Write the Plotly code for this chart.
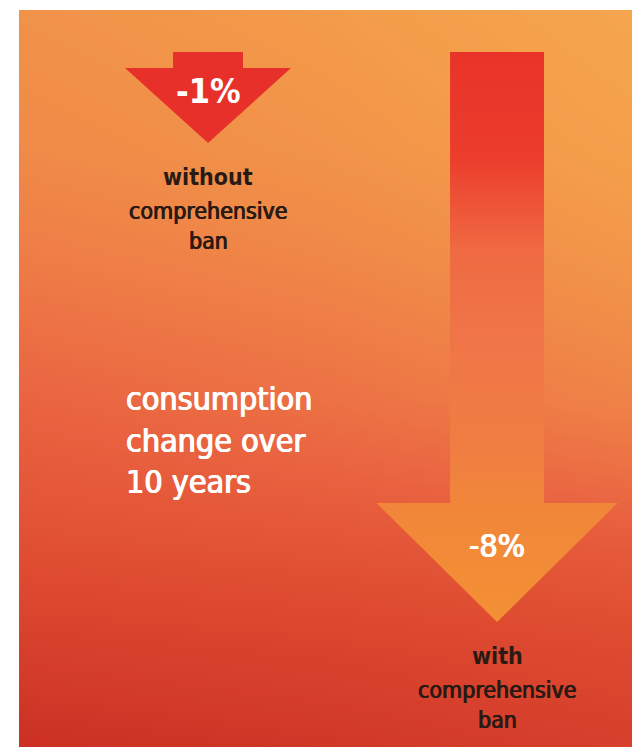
import plotly.graph_objects as go

# ---------------- data ----------------
scenarios = ["without comprehensive ban", "with comprehensive ban"]
label_bold = ["without", "with"]
label_rest = ["comprehensive", "ban"]
changes = [-1, -8]                     # % change in consumption over 10 years
value_labels = ["-1%", "-8%"]
side_title = ["consumption", "change over", "10 years"]

# ---------------- style / geometry ----------------
W, H = 632, 747
ML, MT = 19, 10
X_RANGE = [-0.654, 1.467]
Y_RANGE = [-9.827, 0.944]
ARROW_TOP = 0.33
SHAFT_W = [0.242, 0.325]
HEAD_W = [0.574, 0.834]
HEAD_D = [1.096, 1.739]
VAL_POS = [0.69, 0.64]       # fraction of head depth above the tip
VAL_BOLD = [True, False]
LINE_OFFSETS = [34, 68, 98]  # px below tip for the three label lines
DARK = "#2a1a14"
FONT = "DejaVu Sans Condensed"
THICK_DARK = "0.45px 0 0 #2a1a14, -0.45px 0 0 #2a1a14"
THICK_WHITE = "0.6px 0 0 white, -0.6px 0 0 white"


def px_to_v(py):
    # background only: screen rows -> value units
    return Y_RANGE[1] - (py - MT) * (Y_RANGE[1] - Y_RANGE[0]) / (H - MT)


fig = go.Figure()

# background gradient
bg_rows_px = [0, 150, 250, 400, 550, 650, 760]
bg_cols = [-0.75, 0.4, 1.55]
bg_left = [0.25, 0.32, 0.42, 0.60, 0.75, 0.88, 1.00]
bg_mid = [0.17, 0.24, 0.33, 0.50, 0.71, 0.84, 0.95]
bg_right = [0.05, 0.12, 0.20, 0.36, 0.66, 0.78, 0.88]
bg_z = [list(r) for r in zip(bg_left, bg_mid, bg_right)]
bg_scale = [
    [0.0, "#f7aa52"], [0.15, "#f49e4a"], [0.3, "#f08c48"], [0.45, "#ee7846"],
    [0.6, "#e96240"], [0.75, "#e04e32"], [0.9, "#d43c2a"], [1.0, "#c92d22"],
]
fig.add_trace(go.Heatmap(
    x=bg_cols, y=[px_to_v(p) for p in bg_rows_px], z=bg_z,
    colorscale=bg_scale, zmin=0, zmax=1, zsmooth="best",
    showscale=False, hoverinfo="skip",
))

arrow_fill = [
    dict(fillcolor="#e8302a"),
    dict(fillgradient=dict(
        type="vertical",
        start=changes[1], stop=ARROW_TOP,
        colorscale=[[0.0, "#f39034"], [0.21, "#f1863a"], [0.3, "#f07e42"],
                    [0.5, "#f07548"], [0.65, "#ef6a42"], [0.82, "#eb3c2c"],
                    [1.0, "#e9332a"]],
    )),
]

for i, v in enumerate(changes):
    sw, hw, hd = SHAFT_W[i], HEAD_W[i], HEAD_D[i]
    xs = [i - sw / 2, i + sw / 2, i + sw / 2, i + hw / 2, i, i - hw / 2, i - sw / 2, i - sw / 2]
    ys = [ARROW_TOP, ARROW_TOP, v + hd, v + hd, v, v + hd, v + hd, ARROW_TOP]
    fig.add_trace(go.Scatter(
        x=xs, y=ys, mode="lines", fill="toself", line=dict(width=0),
        hoverinfo="skip", showlegend=False, name=scenarios[i], **arrow_fill[i],
    ))
    vt = f"<b>{value_labels[i]}</b>" if VAL_BOLD[i] else value_labels[i]
    fig.add_annotation(
        x=i, y=v + hd * VAL_POS[i], xref="x", yref="y", text=vt,
        showarrow=False, xanchor="center", yanchor="middle",
        font=dict(family=FONT, size=34 if VAL_BOLD[i] else 32, color="white",
                  shadow="none" if VAL_BOLD[i] else THICK_WHITE),
    )
    lines = [f"<b>{label_bold[i]}</b>", label_rest[0], label_rest[1]]
    for j, (txt, off) in enumerate(zip(lines, LINE_OFFSETS)):
        fig.add_annotation(
            x=i, y=v, xref="x", yref="y", yshift=-off,
            text=txt, showarrow=False, xanchor="center", yanchor="middle",
            font=dict(family=FONT, size=23, color=DARK,
                      shadow="none" if j == 0 else THICK_DARK),
        )

fig.add_annotation(
    x=(124 - ML) / (W - ML), y=(H - 440) / (H - MT), xref="paper", yref="paper",
    text="<br>".join(side_title), showarrow=False, xanchor="left",
    yanchor="middle", align="left",
    font=dict(family=FONT, size=32, color="white", shadow=THICK_WHITE),
)

fig.update_xaxes(range=X_RANGE, visible=False, fixedrange=True)
fig.update_yaxes(range=Y_RANGE, visible=False, fixedrange=True)
fig.update_layout(
    width=W, height=H,
    margin=dict(l=ML, r=0, t=MT, b=0),
    paper_bgcolor="white", plot_bgcolor="#f08a40",
    showlegend=False,
)

fig.write_html("out.html")
